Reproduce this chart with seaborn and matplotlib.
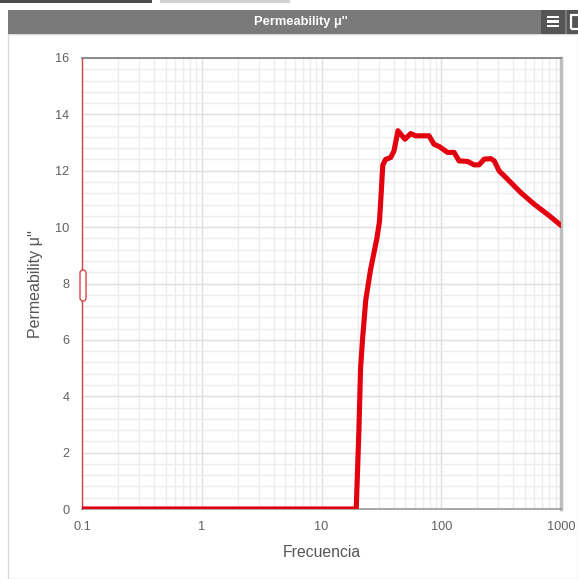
import numpy as np
import pandas as pd
import matplotlib
matplotlib.use("Agg")
import matplotlib.pyplot as plt
from matplotlib.patches import Rectangle, FancyBboxPatch
from matplotlib.ticker import FixedLocator, FixedFormatter, MultipleLocator, LogLocator, NullFormatter
import seaborn as sns

# Frequency sweep and measured imaginary permeability
frecuencia = [0.1, 19.5, 20.5, 21.2, 22.0, 23.4, 25.7, 29.0, 30.5, 31.5, 32.5, 34.3, 37.8,
              40.3, 43.5, 45.8, 49.8, 55.6, 61.0, 79.0, 87.0, 96.0, 113.0, 128.0,
              141.0, 166.0, 188.0, 207.0, 228.0, 259.0, 277.0, 305.0, 358.0, 463.0,
              598.0, 774.0, 1000.0]
mu_imag = [0.0, 0.0, 2.7, 5.0, 6.0, 7.4, 8.5, 9.6, 10.2, 11.2, 12.2, 12.4, 12.47,
           12.7, 13.42, 13.3, 13.12, 13.32, 13.24, 13.24, 12.94, 12.86, 12.65, 12.65,
           12.35, 12.33, 12.21, 12.21, 12.41, 12.43, 12.35, 11.99, 11.7, 11.22,
           10.81, 10.45, 10.06]

x_ticks = [0.1, 1, 10, 100, 1000]
x_tick_labels = ["0.1", "1", "10", "100", "1000"]
y_ticks = [0, 2, 4, 6, 8, 10, 12, 14, 16]

title = "Permeability \u03bc''"
x_title = "Frecuencia"
y_title = "Permeability \u03bc''"

df = pd.DataFrame({"f": frecuencia, "mu": mu_imag})

sns.set_style("white")
plt.rcParams["font.family"] = ["Liberation Sans", "DejaVu Sans"]

W, H = 578, 579
fig = plt.figure(figsize=(W / 100, H / 100), dpi=100)
fig.patch.set_facecolor("white")

def fx(px):
    return px / W

def fy(py):
    return 1 - py / H

# plot area
left, right, top, bottom = 82, 561, 58, 509
ax = fig.add_axes([fx(left), fy(bottom), fx(right - left), (bottom - top) / H])

sns.lineplot(data=df, x="f", y="mu", ax=ax, color="#e3000f", linewidth=3.7,
             solid_joinstyle="round", solid_capstyle="round", zorder=5)

ax.set_xscale("log")
ax.set_xlim(0.1, 1000)
ax.set_ylim(0, 16)

ax.xaxis.set_major_locator(FixedLocator(x_ticks))
ax.xaxis.set_major_formatter(FixedFormatter(x_tick_labels))
ax.xaxis.set_minor_locator(LogLocator(base=10, subs=np.arange(2, 10)))
ax.xaxis.set_minor_formatter(NullFormatter())
ax.yaxis.set_major_locator(FixedLocator(y_ticks))
ax.yaxis.set_minor_locator(MultipleLocator(0.4))

ax.grid(which="major", color="#dedede", linewidth=1.0, zorder=0)
ax.grid(which="minor", color="#ececec", linewidth=1.0, zorder=0)
ax.set_axisbelow(True)

ax.tick_params(axis="both", which="major", labelsize=9.2, labelcolor="#606060",
               color="#999999", length=5, width=1, direction="out", pad=4)
ax.tick_params(axis="both", which="minor", length=0)

ax.set_xlabel(x_title, fontsize=11.3, color="#555555", labelpad=8)
ax.set_ylabel(y_title, fontsize=11.5, color="#555555", labelpad=9)

ax.spines["left"].set_color("#c9454a")
ax.spines["left"].set_linewidth(1.0)
ax.spines["bottom"].set_color("#9a9a9a")
ax.spines["bottom"].set_linewidth(1.2)
ax.spines["top"].set_color("#8a8a8a")
ax.spines["top"].set_linewidth(1.4)
ax.spines["right"].set_color("#bdbdbd")
ax.spines["right"].set_linewidth(2.5)

# widget frame and header bar
fig.patches.append(Rectangle((fx(0), fy(3)), fx(152), 3 / H, transform=fig.transFigure,
                             facecolor="#4d4d4d", edgecolor="none"))
fig.patches.append(Rectangle((fx(160), fy(3)), fx(130), 3 / H, transform=fig.transFigure,
                             facecolor="#d0d0d0", edgecolor="none"))
fig.patches.append(Rectangle((fx(8), fy(H)), fx(W - 8), (H - 34) / H, transform=fig.transFigure,
                             facecolor="none", edgecolor="#d8d8d8", linewidth=1.0))
fig.patches.append(Rectangle((fx(8), fy(34)), fx(W - 8), 24 / H, transform=fig.transFigure,
                             facecolor="#7a7a7a", edgecolor="none"))
fig.patches.append(Rectangle((fx(541), fy(34)), fx(24), 24 / H, transform=fig.transFigure,
                             facecolor="#555555", edgecolor="none"))
fig.patches.append(Rectangle((fx(567), fy(34)), fx(11), 24 / H, transform=fig.transFigure,
                             facecolor="#555555", edgecolor="none"))
fig.patches.append(Rectangle((fx(571), fy(29)), fx(9), 14 / H, transform=fig.transFigure,
                             facecolor="none", edgecolor="white", linewidth=1.6))
for yy in (17, 21.5, 26):
    fig.patches.append(Rectangle((fx(547), fy(yy + 1.2)), fx(12), 2.4 / H,
                                 transform=fig.transFigure, facecolor="white",
                                 edgecolor="none"))
fig.text(fx(301), fy(21.5), title, ha="center", va="center", color="white",
         fontsize=9.3, fontweight="bold")

# handle on the y axis
fig.patches.append(FancyBboxPatch((fx(80), fy(301)), fx(6), 31 / H,
                                  boxstyle="round,pad=0,rounding_size=0.005",
                                  transform=fig.transFigure, facecolor="white",
                                  edgecolor="#d9434a", linewidth=1.0, zorder=10))

fig.savefig("out.png", dpi=100, facecolor="white")
